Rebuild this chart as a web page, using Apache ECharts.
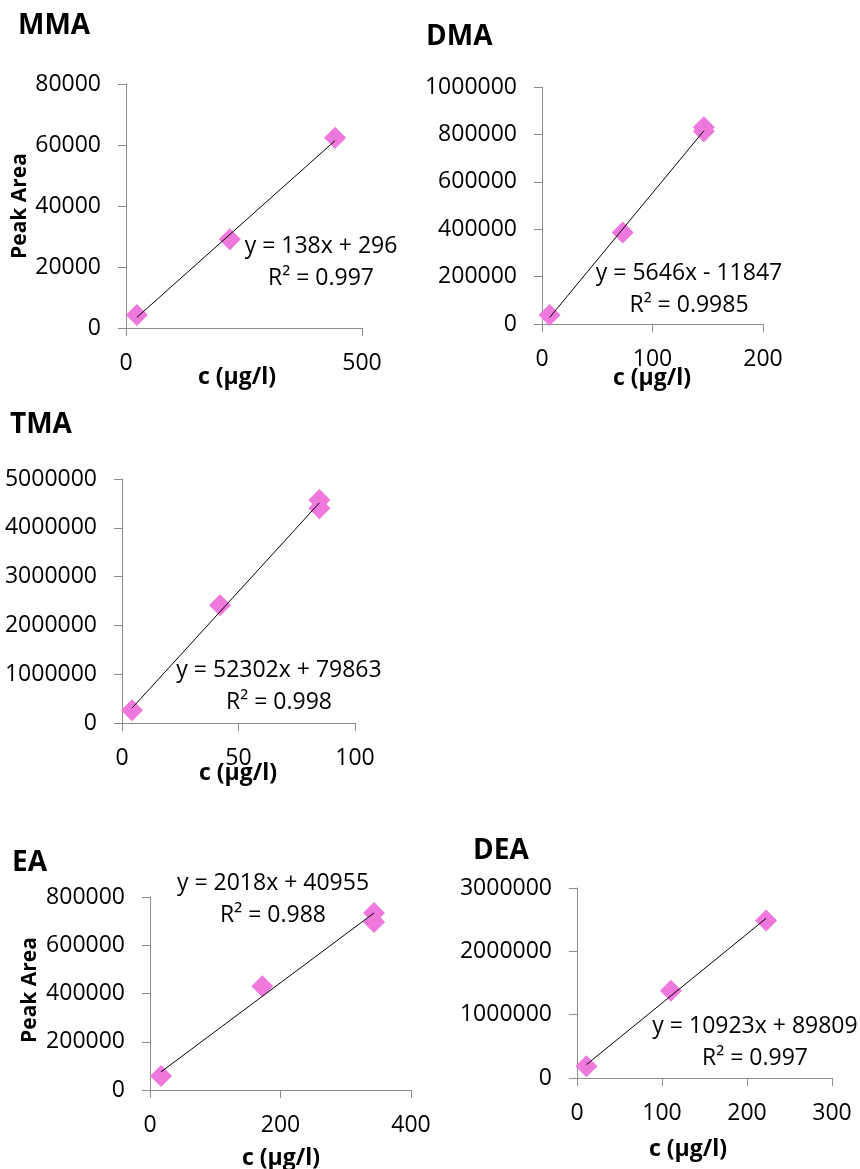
<!DOCTYPE html>
<html>
<head>
<meta charset="utf-8">
<script src="https://cdn.jsdelivr.net/npm/echarts@6/dist/echarts.min.js"></script>
<style>
  html, body { margin: 0; padding: 0; background: #fff; }
  #chart { width: 860px; height: 1169px; }
</style>
</head>
<body>
<div id="chart"></div>
<script>
// Calibration data: concentration (µg/l) vs. peak area for each amine
const mmaConc = [23, 220, 443];
const mmaArea = [4260, 29080, 62390];
const dmaConc = [6.9, 73.1, 146.5, 146.5];
const dmaArea = [37900, 386400, 830000, 813000];
const tmaConc = [4.3, 42.1, 84.7, 84.7];
const tmaArea = [260600, 2414900, 4569000, 4398900];
const eaConc = [16.9, 172.1, 343.3, 343.3];
const eaArea = [57900, 430400, 733800, 696500];
const deaConc = [11.1, 110.5, 222.5];
const deaArea = [185300, 1378000, 2486800];

// Linear fits (slope, intercept) and R² as printed on each panel
const fitSlope = [138, 5646, 52302, 2018, 10923];
const fitIntercept = [296, -11847, 79863, 40955, 89809];
const fitR2 = ['0.997', '0.9985', '0.998', '0.988', '0.997'];
const panelNames = ['MMA', 'DMA', 'TMA', 'EA', 'DEA'];

// Axis ranges
const xMaxes = [500, 200, 100, 400, 300];
const xSteps = [500, 100, 50, 200, 100];
const yMaxes = [80000, 1000000, 5000000, 800000, 3000000];
const ySteps = [20000, 200000, 1000000, 200000, 1000000];

const xLabel = 'c (µg/l)';
const yLabel = 'Peak Area';

const concs = [mmaConc, dmaConc, tmaConc, eaConc, deaConc];
const areas = [mmaArea, dmaArea, tmaArea, eaArea, deaArea];

// Layout of each panel
const grids = [
  { left: 126, top: 84, width: 236, height: 244 },
  { left: 542, top: 87, width: 221, height: 237 },
  { left: 122, top: 479, width: 233, height: 244 },
  { left: 150, top: 897, width: 261, height: 193 },
  { left: 577, top: 888, width: 255, height: 190 }
];
const titlePos = [[18, 26], [426, 37], [10, 425], [12, 863], [473, 851]];
const eqPos = [[321, 246], [689, 273], [279, 670], [273, 883], [755, 1026]];
const xNamePos = [[237, 377], [652, 378], [238, 773], [281, 1158], [688, 1149]];
const yNamePos = [[20, 206], null, null, [30, 990], null];

const FONT = '"Open Sans", "Liberation Sans", sans-serif';
const axisGray = '#8c8c8c';
const pink = '#ee78dc';
const plain = v => String(v);

const xAxes = [], yAxes = [], series = [], graphics = [];

grids.forEach((g, i) => {
  xAxes.push({
    type: 'value', gridIndex: i, min: 0, max: xMaxes[i], interval: xSteps[i],
    axisLine: { show: true, onZero: false, lineStyle: { color: axisGray, width: 1 } },
    axisTick: { show: true, length: 8, lineStyle: { color: axisGray } },
    splitLine: { show: false },
    axisLabel: { fontFamily: FONT, fontSize: 23, color: '#000', margin: 24, formatter: plain }
  });
  yAxes.push({
    type: 'value', gridIndex: i, min: 0, max: yMaxes[i], interval: ySteps[i],
    axisLine: { show: true, onZero: false, lineStyle: { color: axisGray, width: 1 } },
    axisTick: { show: true, length: 8, lineStyle: { color: axisGray } },
    splitLine: { show: false },
    axisLabel: { fontFamily: FONT, fontSize: 23, color: '#000', margin: 25, formatter: plain }
  });

  const pts = concs[i].map((c, k) => [c, areas[i][k]]);
  series.push({
    type: 'scatter', xAxisIndex: i, yAxisIndex: i,
    symbol: 'diamond', symbolSize: 22,
    itemStyle: { color: pink, opacity: 1 },
    data: pts, z: 2, silent: true
  });

  // Trend line spanning the measured concentration range
  const lo = Math.min(...concs[i]);
  const hi = Math.max(...concs[i]);
  series.push({
    type: 'line', xAxisIndex: i, yAxisIndex: i,
    showSymbol: false, symbol: 'none',
    lineStyle: { color: '#000', width: 1 },
    data: [[lo, fitSlope[i] * lo + fitIntercept[i]], [hi, fitSlope[i] * hi + fitIntercept[i]]],
    z: 3, silent: true
  });

  // Panel title
  graphics.push({
    type: 'text', x: titlePos[i][0], y: titlePos[i][1],
    style: { text: panelNames[i], fill: '#000', font: 'bold 28px ' + FONT, align: 'left', verticalAlign: 'middle' }
  });

  // Regression equation and R²
  const b = fitIntercept[i];
  const eq = 'y = ' + fitSlope[i] + 'x ' + (b < 0 ? '- ' : '+ ') + Math.abs(b);
  graphics.push({
    type: 'text', x: eqPos[i][0], y: eqPos[i][1],
    style: { text: eq, fill: '#000', font: '23px ' + FONT, align: 'center', verticalAlign: 'middle' }
  });
  graphics.push({
    type: 'text', x: eqPos[i][0], y: eqPos[i][1] + 32,
    style: { text: 'R² = ' + fitR2[i], fill: '#000', font: '23px ' + FONT, align: 'center', verticalAlign: 'middle' }
  });

  // Axis titles
  graphics.push({
    type: 'text', x: xNamePos[i][0], y: xNamePos[i][1],
    style: { text: xLabel, fill: '#000', font: 'bold 23px ' + FONT, align: 'center', verticalAlign: 'middle' }
  });
  if (yNamePos[i]) {
    graphics.push({
      type: 'text', x: yNamePos[i][0], y: yNamePos[i][1], rotation: Math.PI / 2,
      style: { text: yLabel, fill: '#000', font: 'bold 21px ' + FONT, align: 'center', verticalAlign: 'middle' }
    });
  }
});

const chart = echarts.init(document.getElementById('chart'), null, { renderer: 'canvas' });
chart.setOption({
  backgroundColor: '#fff',
  animation: false,
  grid: grids,
  xAxis: xAxes,
  yAxis: yAxes,
  series: series,
  graphic: graphics
});
</script>
</body>
</html>
